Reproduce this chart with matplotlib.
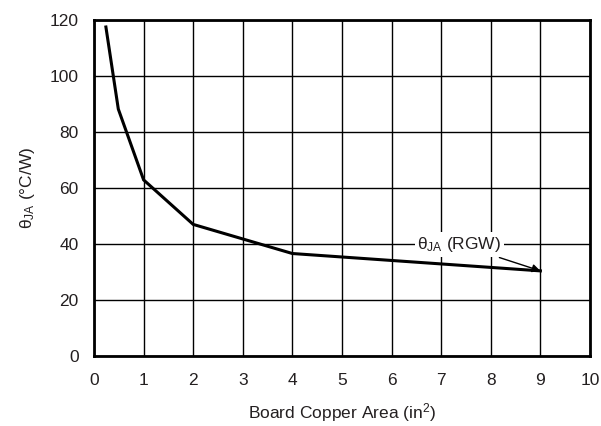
import matplotlib
matplotlib.use("Agg")
import matplotlib.pyplot as plt

plt.rcParams['font.family'] = ['Liberation Sans', 'DejaVu Sans']
plt.rcParams['mathtext.fontset'] = 'custom'
plt.rcParams['mathtext.rm'] = 'Liberation Sans'
plt.rcParams['mathtext.it'] = 'Liberation Sans'
plt.rcParams['text.color'] = '#231f20'
plt.rcParams['xtick.color'] = '#231f20'
plt.rcParams['ytick.color'] = '#231f20'
plt.rcParams['axes.labelcolor'] = '#231f20'

area = [0.24, 0.49, 1.0, 2.0, 4.0, 9.0]
theta_ja = [117.5, 88.2, 62.9, 47.0, 36.6, 30.4]
xticks = list(range(0, 11))
yticks = [0, 20, 40, 60, 80, 100, 120]

fig = plt.figure(figsize=(6.01, 4.26), dpi=100)
ax = fig.add_axes([94/601, 70/426, 496/601, 336/426])

ax.plot(area, theta_ja, color='black', lw=2.2, solid_joinstyle='miter', zorder=3)
ax.set_xlim(0, 10)
ax.set_ylim(0, 120)
ax.set_xticks(xticks)
ax.set_yticks(yticks)
ax.grid(True, color='black', lw=1.0)
ax.tick_params(length=0, labelsize=12.5)
ax.tick_params(axis='x', pad=12)
ax.tick_params(axis='y', pad=11)
for s in ax.spines.values():
    s.set_linewidth(2)
    s.set_zorder(5)

ax.annotate(r'$\theta_{\rm JA}$ (RGW)', xy=(9.0, 30.4), xytext=(7.37, 39.8),
            ha='center', va='center', fontsize=12.5,
            bbox=dict(boxstyle='square,pad=0.15', fc='white', ec='none'),
            arrowprops=dict(arrowstyle='-|>', color='black', lw=1, shrinkA=2, shrinkB=0,
                            mutation_scale=12),
            zorder=4)

ax.set_xlabel(r'Board Copper Area (in$^{\rm 2}$)', fontsize=12.5, labelpad=10)
ax.set_ylabel(r'$\theta_{\rm JA}$ (°C/W)', fontsize=12.5, labelpad=9)

fig.savefig('out.png', dpi=100)
